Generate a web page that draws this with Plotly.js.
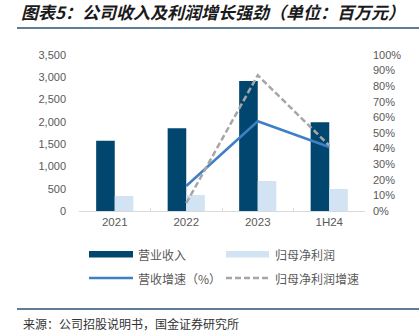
<!DOCTYPE html>
<html>
<head>
<meta charset="utf-8">
<script src="https://cdn.plot.ly/plotly-3.0.1.min.js"></script>
<style>html,body{margin:0;padding:0;background:#fff;}#chart{width:419px;height:331px;}</style>
</head>
<body>
<div id="chart"></div>
<script>
const categories = ["2021", "2022", "2023", "1H24"];
const revenue = [1578, 1855, 2915, 1990];
const netProfit = [337, 359, 673, 494];
const revenueGrowth = [null, 0.16, 0.575, 0.41];
const profitGrowth = [null, 0.05, 0.87, 0.42];
const seriesNames = ["营业收入", "归母净利润", "营收增速（%）", "归母净利润增速"];
const titleText = "图表5：公司收入及利润增长强劲（单位：百万元）";
const sourceText = "来源：公司招股说明书，国金证券研究所";

const W = 419, H = 331;
const L = 79, R = 365, T = 55, B = 211;
const px = x => (x - L) / (R - L);
const py = y => (B - y) / (B - T);

const cDark = "#00466e", cLight = "#d2e4f4", cBlue = "#3f7fc4", cGray = "#a6a6a6";
const fontNum = "Liberation Sans, Arial, Noto Sans CJK SC, sans-serif";
const fontCJK = "Noto Sans CJK SC, sans-serif";

const traces = [
  {type: "bar", x: categories, y: revenue, name: seriesNames[0], marker: {color: cDark}, showlegend: false, hoverinfo: "skip"},
  {type: "bar", x: categories, y: netProfit, name: seriesNames[1], marker: {color: cLight}, showlegend: false, hoverinfo: "skip"},
  {type: "scatter", mode: "lines", x: categories, y: revenueGrowth, yaxis: "y2", name: seriesNames[2], line: {color: cBlue, width: 2.5}, showlegend: false, hoverinfo: "skip"},
  {type: "scatter", mode: "lines", x: categories, y: profitGrowth, yaxis: "y2", name: seriesNames[3], line: {color: cGray, width: 2.5, dash: "6px,3px"}, showlegend: false, hoverinfo: "skip"}
];

const shapes = [
  {type: "line", xref: "paper", yref: "paper", x0: px(17), x1: px(419), y0: py(28), y1: py(28), line: {color: "#2b5276", width: 1.5}},
  {type: "line", xref: "paper", yref: "paper", x0: px(17), x1: px(419), y0: py(309), y1: py(309), line: {color: "#2b5276", width: 1.5}},
  {type: "rect", xref: "paper", yref: "paper", x0: px(89), x1: px(133), y0: py(251), y1: py(257.5), line: {width: 0}, fillcolor: cDark},
  {type: "rect", xref: "paper", yref: "paper", x0: px(226), x1: px(269), y0: py(251), y1: py(257.5), line: {width: 0}, fillcolor: cLight},
  {type: "line", xref: "paper", yref: "paper", x0: px(89), x1: px(133), y0: py(278), y1: py(278), line: {color: cBlue, width: 2.5}},
  {type: "line", xref: "paper", yref: "paper", x0: px(226), x1: px(269), y0: py(278), y1: py(278), line: {color: cGray, width: 2.5, dash: "6px,3px"}}
];

const legendPos = [[136, 255], [273, 255], [136, 278], [273, 278]];
const annotations = seriesNames.map((n, i) => ({
  xref: "paper", yref: "paper", x: px(legendPos[i][0]), y: py(legendPos[i][1]),
  xanchor: "left", yanchor: "middle", showarrow: false, text: n,
  font: {family: fontCJK, size: 12, color: "#595959"}
}));
annotations.push({
  xref: "paper", yref: "paper", x: px(21), y: py(323), xanchor: "left", yanchor: "middle",
  showarrow: false, text: sourceText, font: {family: fontCJK, size: 12, color: "#333333"}
});

const layout = {
  width: W, height: H, autosize: false,
  margin: {l: L, r: W - R, t: T, b: H - B, pad: 0},
  paper_bgcolor: "#ffffff", plot_bgcolor: "#ffffff",
  title: {text: titleText, xref: "container", yref: "container", x: 21 / W, xanchor: "left", y: 1 - 13 / H, yanchor: "middle",
          font: {family: fontCJK, size: 17, color: "#1a1a1a", weight: "bold", style: "italic"}},
  barmode: "group", bargap: 0.48, bargroupgap: 0,
  showlegend: false,
  xaxis: {type: "category", showline: true, linecolor: "#d9d9d9", linewidth: 1, ticks: "inside", tickson: "boundaries",
          ticklen: 3, tickcolor: "#d9d9d9", showgrid: false, zeroline: false,
          tickfont: {family: fontNum, size: 11.5, color: "#595959"}},
  yaxis: {range: [0, 3500], dtick: 500, tickformat: ",d", showgrid: false, zeroline: false, showline: false,
          ticks: "", ticklabelstandoff: 12, tickfont: {family: fontNum, size: 11, color: "#595959"}},
  yaxis2: {overlaying: "y", side: "right", range: [0, 1], dtick: 0.1, tickformat: ".0%", showgrid: false, zeroline: false,
           showline: false, ticks: "", ticklabelstandoff: 7, tickfont: {family: fontNum, size: 11, color: "#595959"}},
  shapes: shapes,
  annotations: annotations
};

Plotly.newPlot("chart", traces, layout, {staticPlot: true, displayModeBar: false});
</script>
</body>
</html>
